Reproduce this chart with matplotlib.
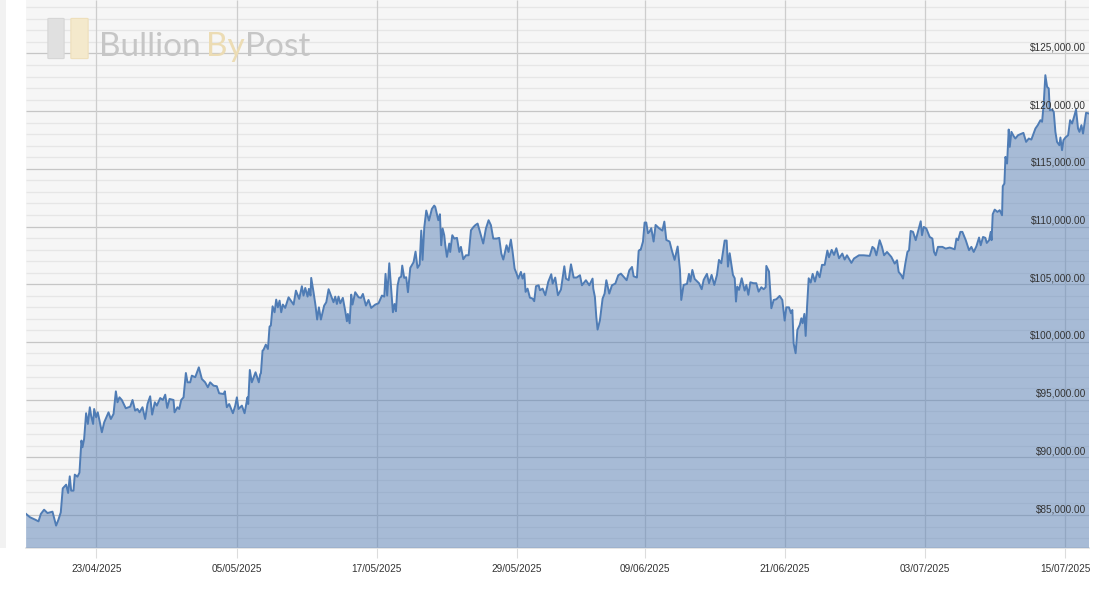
import pandas as pd
import matplotlib.pyplot as plt
import matplotlib.dates as mdates
from matplotlib.patches import FancyBboxPatch, Rectangle

# days after 23/04/2025, price in thousand USD
days = [-6.03, -5.69, -5.26, -4.97, -4.77, -4.49, -4.2, -3.77, -3.46, -3.26, -3.06, -2.89, -2.6, -2.43, -2.29, -2.17, -1.97, -1.86, -1.63, -1.46,
        -1.29, -1.2, -1.06, -0.89, -0.74, -0.57, -0.46, -0.29, -0.2, -0.03, 0.11, 0.26, 0.46, 0.66, 1.03, 1.23, 1.46, 1.66, 1.8, 1.97,
        2.17, 2.51, 2.89, 3.09, 3.31, 3.51, 3.69, 3.94, 4.17, 4.37, 4.6, 4.77, 5.0, 5.17, 5.46, 5.69, 5.89, 6.06, 6.26, 6.6,
        6.69, 6.94, 7.09, 7.26, 7.46, 7.66, 7.8, 8.03, 8.17, 8.46, 8.77, 9.03, 9.31, 9.54, 9.74, 10.03, 10.31, 10.51, 10.89, 11.0,
        11.17, 11.37, 11.69, 11.89, 12.03, 12.17, 12.46, 12.69, 12.94, 13.0, 13.14, 13.31, 13.63, 13.91, 14.03,
        14.09, 14.23, 14.31, 14.51, 14.69, 14.83, 14.94, 15.09, 15.26, 15.4, 15.54, 15.69, 15.83, 15.97, 16.17, 16.46, 16.89, 17.09, 17.37, 17.6,
        17.74, 17.89, 18.09, 18.2, 18.34, 18.4, 18.6, 18.77, 18.91, 19.06, 19.23, 19.51, 19.69, 19.89, 20.17, 20.31, 20.46, 20.6, 20.74, 20.89,
        21.11, 21.31, 21.46, 21.54, 21.69, 21.83, 21.94, 22.17, 22.46, 22.66, 22.83, 23.09, 23.31, 23.54, 23.89, 24.17, 24.46, 24.66, 24.77, 24.91,
        25.09, 25.26, 25.4, 25.54, 25.66, 25.8, 25.94, 26.11, 26.2, 26.37, 26.54, 26.69, 26.89, 27.17, 27.34, 27.51, 27.69, 27.83, 27.94, 28.09,
        28.26, 28.49, 28.74, 28.94,
        29.03, 29.29, 29.43, 29.54, 29.66, 29.8, 29.89, 30.03, 30.23, 30.31, 30.49, 30.66, 30.89, 31.09, 31.23, 31.43, 31.66, 31.89, 32.09, 32.31,
        32.46, 32.66, 32.86, 33.14, 33.37, 33.6, 33.8, 34.0, 34.29, 34.51, 34.69, 34.86, 35.14, 35.31, 35.51, 35.66, 35.83, 36.0, 36.14, 36.37,
        36.51, 36.66, 36.77, 36.94, 37.14, 37.37, 37.51, 37.66, 37.89, 38.0, 38.23, 38.46, 38.71, 38.97, 39.09, 39.31, 39.54, 39.8, 40.09, 40.23,
        40.46, 40.66, 40.89, 41.14, 41.43, 41.6, 41.94, 42.23, 42.51, 42.57, 42.71, 42.83, 42.94, 43.14, 43.37, 43.54, 43.69, 43.94, 44.17, 44.46,
        44.71, 44.94, 45.23, 45.43, 45.66, 45.89, 46.03, 46.31, 46.46,
        46.54, 46.63, 46.83, 46.97, 47.11, 47.26, 47.4, 47.54, 47.74, 47.91, 48.2, 48.49, 48.66, 48.83, 49.11, 49.29, 49.54, 49.8, 50.0, 50.11,
        50.31, 50.6, 50.77, 50.89, 51.06, 51.26, 51.63, 51.86, 52.03, 52.31, 52.49, 52.71, 52.94, 53.17, 53.34, 53.54, 53.83, 54.0, 54.11, 54.26,
        54.54, 54.69, 54.8, 54.91, 55.06, 55.29, 55.54, 55.69, 55.86, 56.03, 56.31, 56.54, 56.74, 56.97, 57.17, 57.34, 57.4, 57.63, 57.83, 58.03,
        58.26, 58.54, 58.77, 58.97, 59.11, 59.34, 59.51, 59.63, 59.74, 59.91, 60.06, 60.26, 60.4, 60.51, 60.66, 60.77, 60.89, 61.03, 61.2, 61.37,
        61.57, 61.77, 61.97, 62.17, 62.4, 62.63, 62.77, 63.0, 63.2, 63.4, 63.63,
        63.91, 64.11, 64.31, 64.69, 64.91, 65.34, 65.74, 66.26, 66.49, 66.66, 66.83, 67.11, 67.31, 67.49, 67.74, 68.11, 68.4, 68.6, 68.74, 68.97,
        69.11, 69.31, 69.49, 69.63, 69.77, 69.97, 70.2, 70.43, 70.63, 70.74, 70.89, 71.11, 71.4, 71.63, 71.77, 71.91, 72.11, 72.49, 72.77, 73.11,
        73.54, 73.69, 73.83, 74.03, 74.2, 74.49, 74.77, 74.97, 75.17, 75.4, 75.63, 75.77, 75.97, 76.17, 76.29, 76.49, 76.63, 76.7,
        76.8, 76.97, 77.2, 77.4, 77.6, 77.66, 77.8, 77.89, 78.03, 78.17, 78.26, 78.4, 78.6, 78.74, 78.97, 79.43, 79.66, 79.89, 80.11, 80.46,
        80.66, 80.89, 81.03, 81.17, 81.31, 81.46, 81.6, 81.69, 81.89, 82.03, 82.17, 82.31, 82.51, 82.6, 82.74, 82.86, 83.03, 83.26, 83.43, 83.6,
        83.77, 83.94, 84.11, 84.23, 84.4, 84.54, 84.8, 85.05]
price_k = [85.09, 84.8, 84.6, 84.45, 85.09, 85.46, 85.17, 85.29, 84.08, 84.6, 85.23, 87.31, 87.63, 86.91, 88.35, 87.11, 87.11, 88.5, 88.32, 88.67,
           91.45, 90.87, 91.59, 93.82, 92.89, 94.34, 93.61, 92.89, 94.19, 93.47, 93.9, 93.18, 92.17, 93.03, 93.9, 93.32, 93.76, 95.72, 94.77, 95.2,
           94.97, 94.25, 94.39, 94.97, 94.05, 94.19, 93.9, 94.34, 93.32, 94.62, 95.29, 93.7, 94.77, 94.48, 95.14, 94.97, 95.43, 94.28, 95.06, 94.97,
           93.9, 94.34, 94.19, 94.97, 95.2, 97.31, 96.5, 96.5, 97.08, 96.94, 97.8, 96.79, 96.5, 96.07, 96.5, 96.21, 96.16, 95.55, 95.49, 95.72,
           94.34, 94.62, 93.82, 94.48, 95.2, 94.19, 94.48, 93.82, 95.2, 94.62, 97.57, 96.5, 97.37, 96.5, 97.2,
           97.28, 99.25, 99.31, 99.77, 99.39, 101.33, 101.42, 103.09, 102.57, 103.67, 103.0, 103.58, 102.57, 103.24, 102.95, 103.87, 103.24, 104.45, 103.73, 104.83,
           104.02, 104.68, 103.93, 104.6, 104.02, 105.55, 104.31, 103.15, 101.94, 103.0, 101.94, 103.15, 103.44, 104.57, 103.82, 103.44, 103.93, 103.29, 103.93, 103.35,
           103.82, 102.72, 101.79, 102.43, 101.62, 104.1, 103.24, 104.31, 103.87, 103.82, 104.16, 103.15, 103.64, 102.95, 103.24, 103.35, 104.02, 103.93, 105.9, 104.02,
           106.82, 104.45, 102.57, 103.29, 102.66, 104.88, 105.55, 105.66, 106.62, 105.55, 105.61, 104.31, 106.42, 106.91, 107.83, 106.42, 106.71, 109.65, 107.11, 109.94,
           111.39, 110.52, 111.53, 111.82,
           111.7, 110.55, 111.07, 108.38, 109.83, 109.25, 108.38, 107.37, 108.53, 107.8, 109.25, 108.96, 109.02, 107.8, 108.24, 107.17, 107.51, 107.51, 109.68, 109.97,
           110.12, 110.26, 109.54, 108.53, 109.83, 110.55, 110.12, 108.96, 108.96, 109.02, 107.66, 107.14, 108.38, 107.8, 108.87, 107.8, 106.36, 105.92, 105.49, 106.07,
           105.49, 105.92, 104.34, 104.62, 103.84, 103.76, 103.53, 104.83, 104.91, 104.48, 104.62, 104.05, 105.2, 105.87, 105.06, 105.58, 104.05, 104.54, 106.56, 105.49,
           105.35, 106.73, 105.58, 105.58, 105.78, 104.91, 105.35, 104.91, 105.49, 104.62, 103.9, 102.17, 101.07, 101.88, 103.76, 104.19, 105.35, 104.19, 104.91, 105.06,
           105.78, 105.92, 105.58, 105.35, 106.21, 106.5, 105.69, 105.58, 107.89,
           107.98, 107.98, 108.7, 110.35, 110.35, 109.42, 109.57, 109.86, 108.7, 110.14, 109.86, 109.65, 110.43, 108.84, 108.7, 107.98, 107.11, 108.27, 106.24, 103.64,
           104.94, 105.03, 105.9, 105.23, 106.24, 105.46, 105.09, 104.57, 105.38, 105.9, 105.09, 105.81, 104.94, 105.81, 107.11, 106.82, 108.79, 108.79, 106.53, 107.69,
           105.81, 105.52, 103.5, 104.8, 104.51, 105.52, 104.45, 104.94, 104.08, 105.17, 105.09, 105.09, 104.36, 104.74, 104.57, 104.74, 106.59, 106.1, 102.92, 103.64,
           103.7, 103.99, 103.64, 101.85, 103.0, 103.0, 102.49, 102.77, 99.88, 99.02, 101.04, 101.47, 102.05, 101.62, 102.43, 100.52, 103.06, 105.52, 105.14, 105.9,
           105.23, 106.1, 105.61, 106.68, 106.68, 107.92, 107.34, 107.98, 107.54, 108.12, 107.25,
           107.66, 107.14, 107.51, 106.85, 107.23, 107.51, 107.51, 107.46, 108.24, 108.09, 107.51, 108.82, 108.24, 107.51, 107.8, 107.37, 106.79, 107.08, 106.07, 105.78,
           105.49, 106.79, 107.8, 107.95, 109.62, 109.54, 108.82, 109.68, 110.46, 109.25, 109.97, 109.83, 109.1, 108.96, 107.8, 107.51, 108.24, 108.24, 108.09, 108.18,
           108.03, 108.96, 108.82, 109.54, 109.54, 108.82, 107.95, 108.24, 107.8, 108.29, 109.05, 108.38, 109.1, 109.02, 108.58, 108.82, 109.54, 108.82,
           111.07, 111.47, 111.27, 111.42, 110.98, 113.5, 113.73, 116.04, 115.46, 118.41, 116.91, 118.21, 117.83, 117.63, 117.92, 118.12, 117.34, 117.63, 117.54, 118.5,
           118.79, 119.22, 119.08, 120.66, 123.12, 122.11, 121.97, 120.09, 120.14, 119.94, 118.21, 117.34, 117.05, 117.72, 116.62, 117.49, 117.72, 117.92, 119.22, 118.93,
           119.51, 120.14, 118.5, 118.21, 118.79, 118.06, 119.86, 119.8]

major_prices = [85000, 90000, 95000, 100000, 105000, 110000, 115000, 120000, 125000]
minor_prices = [p for p in range(83000, 130000, 1000) if p % 5000 != 0]
tick_dates = ['23/04/2025', '05/05/2025', '17/05/2025', '29/05/2025', '09/06/2025', '21/06/2025', '03/07/2025', '15/07/2025']

W, H = 1116, 589
base = pd.Timestamp('2025-04-23')
dates = [base + pd.Timedelta(days=d) for d in days]
prices = [p * 1000 for p in price_k]
ticks = pd.to_datetime(tick_dates, format='%d/%m/%Y')

plt.rcParams['font.family'] = ['Liberation Sans', 'DejaVu Sans']
fig = plt.figure(figsize=(W / 100, H / 100), dpi=100)
ax = fig.add_axes([26 / W, (H - 548) / H, (1089 - 26) / W, 548 / H])
ax.set_facecolor('#f6f6f6')

# strip at the far left of the page
fig.add_artist(Rectangle((0, (H - 548) / H), 6 / W, 548 / H, transform=fig.transFigure, color='#f2f2f2', lw=0))

ax.hlines(minor_prices, 0, 1, transform=ax.get_yaxis_transform(), color='#e6e6e6', lw=0.9, zorder=1)
ax.hlines(major_prices, 0, 1, transform=ax.get_yaxis_transform(), color='#c6c6c6', lw=0.9, zorder=1.1)
ax.vlines(ticks, 0, 1, transform=ax.get_xaxis_transform(), color='#cdcdcd', lw=0.9, zorder=1.1)

# watermark
fig.add_artist(FancyBboxPatch((49 / W, (H - 58) / H), 14 / W, 39 / H, boxstyle='round,pad=0.001', transform=fig.transFigure,
                              fc='#e0e0e0', ec='#d6d6d6', lw=0.8, zorder=1.2))
fig.add_artist(FancyBboxPatch((72 / W, (H - 58) / H), 15 / W, 39 / H, boxstyle='round,pad=0.001', transform=fig.transFigure,
                              fc='#f4e9cc', ec='#eedfba', lw=0.8, zorder=1.2))
logo = [('Bullion', 99, '#c6c6c6'), ('By', 206, '#ecdcb4'), ('Post', 245, '#c6c6c6')]
for word, x, col in logo:
    fig.text(x / W, (H - 56) / H, word, fontsize=24, family='Lato', weight='normal', color=col, ha='left', va='baseline', zorder=1.2)

ax.fill_between(dates, prices, 0, color='#5a82b8', alpha=0.5, lw=0, zorder=3)
ax.plot(dates, prices, color='#4f7cb5', lw=1.4, zorder=4)

ax.set_xlim(base + pd.Timedelta(days=-6.04), base + pd.Timedelta(days=85.05))
ax.set_ylim(82140, 129637)

ax.set_xticks(ticks)
ax.xaxis.set_major_formatter(mdates.DateFormatter('%d/%m/%Y'))
ax.tick_params(axis='x', length=7.2, width=0.8, color='#dddddd', labelsize=7.2, labelcolor='#333333', pad=4.5)
ax.set_yticks([])

for p in major_prices:
    ax.annotate(f'${p:,.2f}', xy=(1, p), xycoords=ax.get_yaxis_transform(), xytext=(-3, 6), textcoords='offset pixels',
                ha='right', va='center', fontsize=7.2, color='#333333', zorder=5)

for side in ['top', 'left', 'right']:
    ax.spines[side].set_visible(False)
ax.spines['bottom'].set_color('#e0e0e0')
ax.spines['bottom'].set_linewidth(1.2)

fig.savefig('out.png', dpi=100)
